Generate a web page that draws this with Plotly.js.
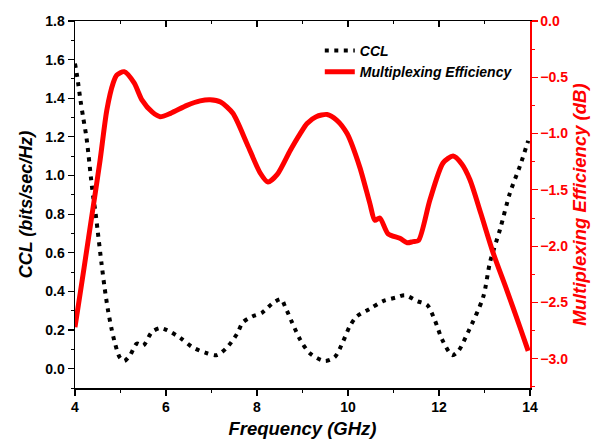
<!DOCTYPE html>
<html>
<head>
<meta charset="utf-8">
<script src="https://cdn.plot.ly/plotly-3.0.1.min.js"></script>
<style>html,body{margin:0;padding:0;background:#fff;}#chart{width:592px;height:445px;}</style>
</head>
<body>
<div id="chart"></div>
<script>
// CCL (bits/sec/Hz) – black dotted
const freqCCL = [4.00, 4.05, 4.12, 4.18, 4.25, 4.30, 4.35, 4.40, 4.45, 4.50, 4.58, 4.65, 4.72, 4.80, 4.88, 4.98, 5.08, 5.21, 5.36, 5.50, 5.69, 5.87, 6.02, 6.31, 6.59, 6.90, 7.12, 7.34, 7.56, 7.69, 7.89, 8.11, 8.35, 8.53, 8.62, 8.77, 8.95, 9.16, 9.49, 9.71, 9.89, 10.04, 10.19, 10.48, 10.77, 11.08, 11.25, 11.52, 11.74, 11.91, 12.07, 12.29, 12.42, 12.64, 12.97, 13.12, 13.34, 13.56, 13.78, 13.96];
const ccl = [1.58, 1.51, 1.39, 1.30, 1.20, 1.10, 0.99, 0.89, 0.81, 0.71, 0.55, 0.42, 0.31, 0.21, 0.13, 0.06, 0.04, 0.07, 0.13, 0.12, 0.19, 0.21, 0.20, 0.16, 0.11, 0.08, 0.07, 0.11, 0.18, 0.24, 0.27, 0.29, 0.34, 0.36, 0.32, 0.24, 0.15, 0.08, 0.04, 0.06, 0.14, 0.22, 0.27, 0.31, 0.35, 0.37, 0.38, 0.35, 0.33, 0.25, 0.15, 0.07, 0.09, 0.19, 0.37, 0.55, 0.72, 0.91, 1.05, 1.18];

// Multiplexing Efficiency (dB) – red solid
const freqME = [4.00, 4.20, 4.40, 4.55, 4.70, 4.84, 4.92, 5.08, 5.30, 5.47, 5.70, 5.87, 6.10, 6.46, 6.75, 6.97, 7.20, 7.47, 7.78, 8.07, 8.24, 8.45, 8.73, 8.95, 9.10, 9.30, 9.54, 9.75, 9.98, 10.26, 10.48, 10.59, 10.70, 10.88, 11.14, 11.30, 11.43, 11.55, 11.80, 12.09, 12.31, 12.50, 12.68, 12.92, 13.19, 13.49, 13.78, 13.96];
const effdB = [-2.72, -2.19, -1.65, -1.24, -0.79, -0.55, -0.48, -0.45, -0.55, -0.70, -0.81, -0.85, -0.82, -0.75, -0.71, -0.70, -0.72, -0.82, -1.09, -1.35, -1.43, -1.36, -1.15, -1.00, -0.91, -0.85, -0.83, -0.88, -1.00, -1.30, -1.62, -1.77, -1.75, -1.89, -1.93, -1.97, -1.96, -1.95, -1.59, -1.26, -1.20, -1.27, -1.41, -1.71, -2.06, -2.39, -2.72, -2.93];

const xTicks = [4, 6, 8, 10, 12, 14];
const seriesNames = ["CCL", "Multiplexing Efficiency"];

const FONT = "Liberation Sans, Arial, sans-serif";

const traces = [
  {
    x: freqCCL, y: ccl, name: seriesNames[0], type: "scatter", mode: "lines",
    line: {color: "#000000", width: 4, dash: "4px,5.5px", shape: "spline", smoothing: 0.8},
    xaxis: "x", yaxis: "y"
  },
  {
    x: freqME, y: effdB, name: seriesNames[1], type: "scatter", mode: "lines",
    line: {color: "#ff0000", width: 5, shape: "spline", smoothing: 0.7},
    xaxis: "x", yaxis: "y2"
  },
  {
    x: [xTicks[0]], y: [null], showlegend: false, hoverinfo: "skip", type: "scatter", mode: "lines",
    xaxis: "x2", yaxis: "y"
  }
];

const layout = {
  width: 592, height: 445,
  margin: {l: 75, r: 62, t: 21, b: 57},
  paper_bgcolor: "#ffffff", plot_bgcolor: "#ffffff",
  showlegend: true,
  legend: {
    x: 0.538, y: 0.962, xanchor: "left", yanchor: "top",
    bgcolor: "rgba(0,0,0,0)",
    font: {family: FONT, size: 14, color: "#000", weight: "bold", style: "italic"},
    tracegroupgap: 0, itemwidth: 30
  },
  xaxis: {
    range: [4, 14], tickvals: xTicks, ticktext: xTicks.map(String),
    showgrid: false, zeroline: false, showline: true, linecolor: "#000", linewidth: 1.5,
    ticks: "outside", ticklen: 6, tickwidth: 1.2, tickcolor: "#000",
    minor: {dtick: 1, tick0: 4, ticks: "outside", ticklen: 3, tickcolor: "#000", tickwidth: 1},
    tickfont: {family: FONT, size: 14, color: "#000", weight: "bold"},
    title: {text: "Frequency (GHz)", font: {family: FONT, size: 18.5, color: "#000", weight: "bold", style: "italic"}, standoff: 8}
  },
  xaxis2: {
    overlaying: "x", side: "top", range: [4, 14], tickvals: xTicks, showticklabels: false,
    showgrid: false, zeroline: false, showline: true, linecolor: "#000", linewidth: 1.5,
    ticks: "inside", ticklen: 6, tickwidth: 1.2, tickcolor: "#000",
    minor: {dtick: 1, tick0: 4, ticks: "inside", ticklen: 3, tickcolor: "#000", tickwidth: 1}
  },
  yaxis: {
    range: [-0.1, 1.8], dtick: 0.2, tick0: 0, tickformat: ".1f",
    showgrid: false, zeroline: false, showline: true, linecolor: "#000", linewidth: 1.5,
    ticks: "outside", ticklen: 6, tickwidth: 1.2, tickcolor: "#000",
    minor: {dtick: 0.1, tick0: 0, ticks: "outside", ticklen: 3, tickcolor: "#000", tickwidth: 1},
    tickfont: {family: FONT, size: 14, color: "#000", weight: "bold"},
    title: {text: "CCL (bits/sec/Hz)", font: {family: FONT, size: 18, color: "#000", weight: "bold", style: "italic"}, standoff: 8}
  },
  yaxis2: {
    overlaying: "y", side: "right", range: [-3.26, 0], dtick: 0.5, tick0: 0, tickformat: ".1f",
    showgrid: false, zeroline: false, showline: true, linecolor: "#ff0000", linewidth: 1.5,
    ticks: "outside", ticklen: 6, tickwidth: 1.2, tickcolor: "#ff0000",
    minor: {dtick: 0.25, tick0: 0, ticks: "outside", ticklen: 3, tickcolor: "#ff0000", tickwidth: 1},
    tickfont: {family: FONT, size: 14, color: "#ff0000", weight: "bold"},
    title: {text: "Multiplexing Efficiency (dB)", font: {family: FONT, size: 18.5, color: "#ff0000", weight: "bold", style: "italic"}, standoff: 6}
  }
};

Plotly.newPlot("chart", traces, layout, {displayModeBar: false, staticPlot: true});
</script>
</body>
</html>
